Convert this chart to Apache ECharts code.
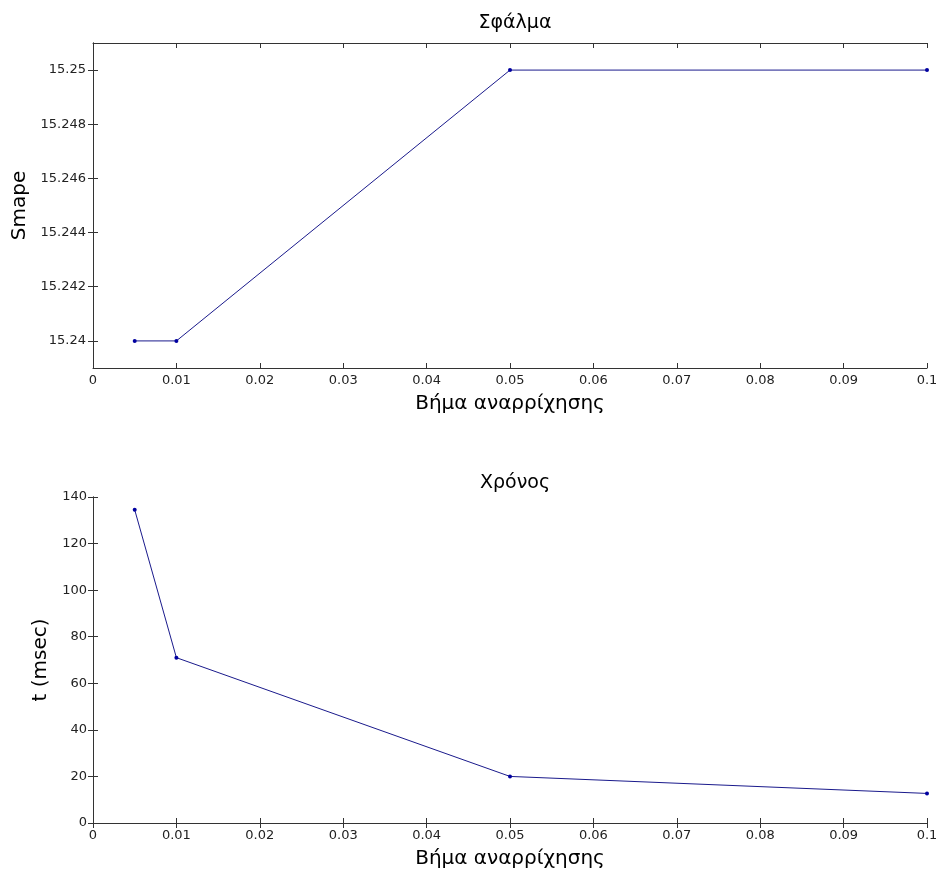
<!DOCTYPE html>
<html>
<head>
<meta charset="utf-8">
<script src="https://cdn.jsdelivr.net/npm/echarts@6/dist/echarts.min.js"></script>
<style>
    html, body { margin: 0; padding: 0; background: #fff; overflow: hidden; }
    #chart { width: 936px; height: 869px; }
</style>
</head>
<body>
<div id="chart"></div>
<script>
// values
let steps = [0.005, 0.01, 0.05, 0.1];
let smape = [15.24, 15.24, 15.25, 15.25];
let timeMs = [134.5, 71, 20, 12.7];
let smapeTicks = [15.24, 15.242, 15.244, 15.246, 15.248, 15.25];

let chart = echarts.init(document.getElementById('chart'));
let font = 'DejaVu Sans';
let axisColor = '#333';
let lineColor = '#1a1a8c';

function xAxisFor(gridIndex, top) {
    return {
        gridIndex: gridIndex,
        type: 'value',
        position: top ? 'top' : 'bottom',
        min: 0,
        max: 0.1,
        interval: 0.01,
        name: top ? '' : 'Βήμα αναρρίχησης',
        nameLocation: 'middle',
        nameGap: 26,
        nameTextStyle: { fontFamily: font, fontSize: 20, color: '#000' },
        axisLine: { show: true, lineStyle: { color: axisColor, width: 1 } },
        axisTick: { show: true, inside: true, length: 5, lineStyle: { color: axisColor } },
        axisLabel: {
            show: !top,
            fontFamily: font,
            fontSize: 13,
            color: '#222',
            margin: 6,
            formatter: function(v) { return String(+v.toFixed(3)); }
        },
        splitLine: { show: false }
    };
}

let option = {
    animation: false,
    backgroundColor: '#fff',
    title: [
        { text: 'Σφάλμα', left: 510, top: 9, textAlign: 'center',
          textStyle: { fontFamily: font, fontSize: 19, fontWeight: 'normal', color: '#000' } },
        { text: 'Χρόνος', left: 510, top: 469, textAlign: 'center',
          textStyle: { fontFamily: font, fontSize: 19, fontWeight: 'normal', color: '#000' } }
    ],
    grid: [
        { left: 93, right: 9, top: 43, height: 325, outerBoundsMode: 'none' },
        { left: 93, right: 9, top: 497, height: 326, outerBoundsMode: 'none' }
    ],
    xAxis: [xAxisFor(0, false), xAxisFor(0, true), xAxisFor(1, false), xAxisFor(1, true)],
    yAxis: [
        {
            gridIndex: 0,
            type: 'value',
            position: 'left',
            min: 15.239,
            max: 15.251,
            name: 'Smape',
            nameLocation: 'middle',
            nameGap: 58,
            nameTextStyle: { fontFamily: font, fontSize: 20, color: '#000' },
            axisLine: { show: true, lineStyle: { color: axisColor } },
            axisTick: { show: true, inside: true, length: 5, customValues: smapeTicks, lineStyle: { color: axisColor } },
            axisLabel: {
                fontFamily: font, fontSize: 13, color: '#222', margin: 7,
                customValues: smapeTicks,
                formatter: function(v) { return String(+v.toFixed(3)); }
            },
            splitLine: { show: false }
        },
        {
            gridIndex: 0,
            type: 'value',
            position: 'right',
            min: 15.239,
            max: 15.251,
            axisLine: { show: true, lineStyle: { color: axisColor } },
            axisTick: { show: true, inside: true, length: 5, customValues: smapeTicks, lineStyle: { color: axisColor } },
            axisLabel: { show: false },
            splitLine: { show: false }
        },
        {
            gridIndex: 1,
            type: 'value',
            position: 'left',
            min: 0,
            max: 140,
            interval: 20,
            name: 't (msec)',
            nameLocation: 'middle',
            nameGap: 33,
            nameTextStyle: { fontFamily: font, fontSize: 20, color: '#000' },
            axisLine: { show: true, lineStyle: { color: axisColor } },
            axisTick: { show: true, inside: true, length: 5, lineStyle: { color: axisColor } },
            axisLabel: { fontFamily: font, fontSize: 13, color: '#222', margin: 6 },
            splitLine: { show: false }
        },
        {
            gridIndex: 1,
            type: 'value',
            position: 'right',
            min: 0,
            max: 140,
            interval: 20,
            axisLine: { show: true, lineStyle: { color: axisColor } },
            axisTick: { show: true, inside: true, length: 5, lineStyle: { color: axisColor } },
            axisLabel: { show: false },
            splitLine: { show: false }
        }
    ],
    series: [
        {
            type: 'line',
            xAxisIndex: 0,
            yAxisIndex: 0,
            data: steps.map((x, i) => [x, smape[i]]),
            symbol: 'circle',
            symbolSize: 4,
            lineStyle: { color: lineColor, width: 1 },
            itemStyle: { color: '#0000a0' },
            clip: false
        },
        {
            type: 'line',
            xAxisIndex: 2,
            yAxisIndex: 2,
            data: steps.map((x, i) => [x, timeMs[i]]),
            symbol: 'circle',
            symbolSize: 4,
            lineStyle: { color: lineColor, width: 1 },
            itemStyle: { color: '#0000a0' },
            clip: false
        }
    ]
};
chart.setOption(option);
</script>
</body>
</html>
